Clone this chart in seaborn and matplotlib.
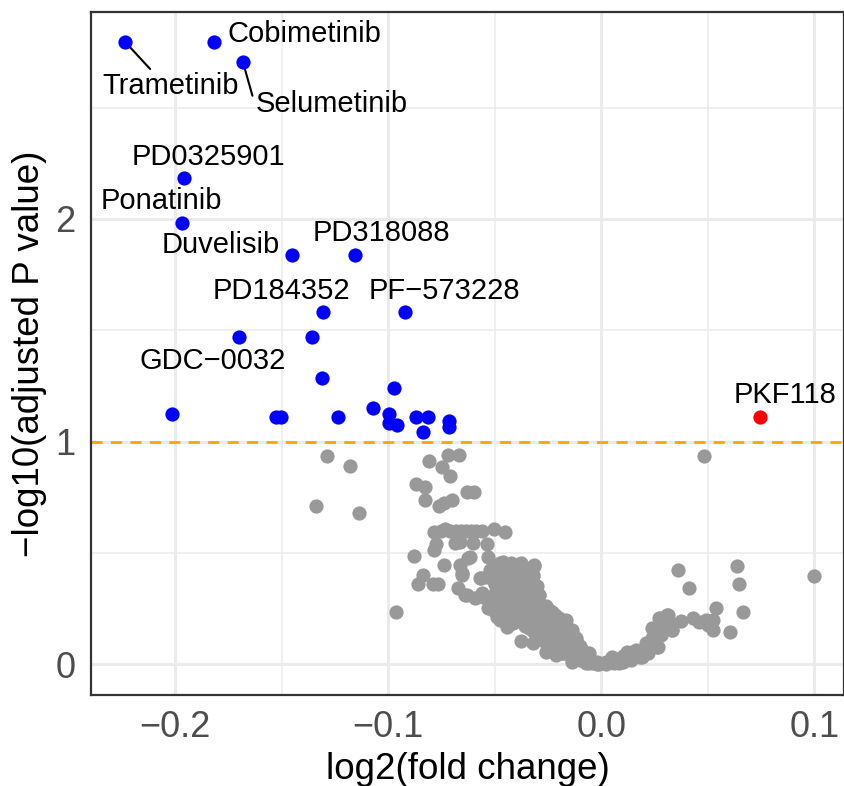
import matplotlib

matplotlib.use("Agg")
import matplotlib.pyplot as plt
import pandas as pd
import seaborn as sns

# significant hits (adjusted P < 0.1, negative fold change)
hit_names = ["Trametinib", "Cobimetinib", "Selumetinib", "PD0325901", "Ponatinib",
             "Duvelisib", "PD318088", "PD184352", "PF\u2212573228", "GDC\u22120032",
             "", "", "", "", "", "", "", "", "", "", "", "", "", "", "", ""]
hit_fc = [-0.2236, -0.1819, -0.1683, -0.1960, -0.1969,
          -0.1453, -0.1158, -0.1308, -0.0924, -0.1702,
          -0.1360, -0.1310, -0.0975, -0.2016, -0.1528, -0.1505, -0.1238, -0.1074,
          -0.0999, -0.0995, -0.0961, -0.0872, -0.0816, -0.0839, -0.0713, -0.0713]
hit_p = [2.796, 2.796, 2.706, 2.184, 1.982,
         1.838, 1.838, 1.582, 1.582, 1.470,
         1.470, 1.285, 1.240, 1.124, 1.110, 1.110, 1.110, 1.151,
         1.124, 1.083, 1.074, 1.110, 1.110, 1.043, 1.092, 1.065]

# significant positive hit
up_names = ["PKF118"]
up_fc = [0.0747]
up_p = [1.109]

# non significant compounds
ns_fc = [
    -0.129, -0.118, -0.134, -0.114, -0.081, -0.072, -0.067, -0.075, -0.071, -0.087,
    -0.083, -0.083, -0.063, -0.060, -0.076, -0.074, -0.070,
    -0.0788, -0.0733, -0.0681, -0.0634, -0.0587, -0.0506, -0.0453, -0.0755, -0.0710,
    -0.0660, -0.0610, -0.0560,
    -0.0689, -0.0666, -0.0603, -0.0538, -0.0778, -0.0788, -0.0881, -0.0741, -0.0839,
    -0.0863, -0.0792, -0.0769, -0.0966, -0.0619, -0.0666, -0.0652, -0.0675, -0.0642,
    -0.0595, -0.0558,
    -0.0628, -0.0652, -0.0633, -0.0563, -0.0534, -0.0525, -0.0469, -0.0422, -0.0375,
    -0.0314, -0.0323, -0.0384, -0.0445, -0.0492, -0.0445, -0.0398, -0.0361, -0.0300,
    -0.0511, -0.0464, -0.0534, -0.0488, -0.0431, -0.0384, -0.0338, -0.0291, -0.0244,
    -0.0197, -0.0164, -0.0417, -0.0352, -0.0291, -0.0230,
    -0.0417, -0.0375, -0.0314, -0.0323, -0.0295, -0.0375, -0.0323, -0.0234, -0.0173,
    -0.0150, -0.0117, -0.0089, -0.0258, -0.0230, -0.0183, -0.0136, -0.0070, -0.0009,
    -0.0511, -0.0478, -0.0445, -0.0539, -0.0572, -0.0492, -0.0478, -0.0431, -0.0398,
    -0.0352, -0.0291,
    -0.0291, -0.0244, -0.0183, -0.0136, -0.0117, -0.0258, -0.0197, -0.0258, -0.0211,
    -0.0150, -0.0103, -0.0070, -0.0136, -0.0056, 0.0023, 0.0070, 0.0117, 0.0164,
    0.0211, 0.0239, 0.0192, 0.0263, 0.0272, 0.0309, 0.0333, 0.0263, 0.0122, 0.0084,
    0.0052,
    -0.004, -0.008, -0.012, -0.016, -0.020, -0.024, -0.028, -0.032, -0.036, -0.040,
    -0.044, -0.048, -0.052, -0.056, -0.034, -0.038, -0.042, -0.046, -0.050, -0.027,
    0.004, 0.010, 0.014, 0.018, 0.022, 0.025, 0.028, 0.030, 0.032, 0.0145, 0.0239,
    0.0480, 0.0361, 0.0413, 0.0636, 0.0644, 0.0667, 0.0606, 0.0999, 0.0331, 0.0264,
    0.0280, 0.0311, 0.0374, 0.0428, 0.0491, 0.0522, 0.0538, 0.0525, 0.0460, 0.0500,
    # dense band
    -0.050, -0.050, -0.050, -0.050,
    -0.046, -0.046, -0.046, -0.046, -0.046,
    -0.042, -0.042, -0.042, -0.042, -0.042,
    -0.038, -0.038, -0.038, -0.038, -0.038, -0.038,
    -0.034, -0.034, -0.034, -0.034, -0.034, -0.034, -0.034,
    -0.030, -0.030, -0.030, -0.030, -0.030, -0.030,
    -0.026, -0.026, -0.026, -0.026, -0.026,
    -0.022, -0.022, -0.022, -0.022, -0.022,
    -0.018, -0.018, -0.018, -0.018,
    -0.014, -0.014, -0.014, -0.014,
    -0.010, -0.010, -0.010,
    -0.006, -0.006, -0.006,
    -0.002, -0.002, 0.002, 0.002, 0.006, 0.006, 0.010, 0.010,
    0.014, 0.014, 0.018, 0.018, 0.022, 0.022,
]
ns_p = [
    0.936, 0.891, 0.711, 0.679, 0.912, 0.938, 0.938, 0.885, 0.845, 0.809,
    0.796, 0.739, 0.771, 0.775, 0.709, 0.724, 0.736,
    0.595, 0.605, 0.598, 0.598, 0.598, 0.605, 0.595, 0.598, 0.598,
    0.600, 0.600, 0.598,
    0.542, 0.550, 0.542, 0.539, 0.539, 0.512, 0.484, 0.445, 0.400,
    0.360, 0.360, 0.360, 0.234, 0.481, 0.445, 0.400, 0.342, 0.310,
    0.297, 0.301,
    0.476, 0.409, 0.310, 0.387, 0.481, 0.422, 0.445, 0.454, 0.454,
    0.445, 0.400, 0.400, 0.387, 0.346, 0.333, 0.319, 0.310, 0.310,
    0.288, 0.274, 0.252, 0.211, 0.229, 0.243, 0.220, 0.229, 0.243,
    0.207, 0.198, 0.184, 0.184, 0.184, 0.184,
    0.436, 0.445, 0.440, 0.396, 0.310, 0.103, 0.094, 0.234, 0.189,
    0.153, 0.108, 0.063, 0.094, 0.063, 0.049, 0.018, 0.004, 0.000,
    0.243, 0.198, 0.166, 0.391, 0.387, 0.422, 0.454, 0.364, 0.301,
    0.274, 0.211,
    0.310, 0.234, 0.189, 0.153, 0.117, 0.121, 0.094, 0.054, 0.040,
    0.063, 0.049, 0.031, 0.009, 0.004, 0.004, 0.018, 0.031, 0.063,
    0.094, 0.117, 0.031, 0.153, 0.207, 0.220, 0.153, 0.076, 0.054, 0.004,
    0.031,
    0.005, 0.015, 0.030, 0.050, 0.070, 0.090, 0.120, 0.150, 0.170, 0.200,
    0.230, 0.260, 0.290, 0.320, 0.250, 0.280, 0.300, 0.330, 0.360, 0.160,
    0.010, 0.020, 0.030, 0.050, 0.070, 0.100, 0.130, 0.160, 0.185, 0.054, 0.162,
    0.936, 0.421, 0.340, 0.442, 0.360, 0.232, 0.142, 0.397, 0.151, 0.075,
    0.205, 0.220, 0.195, 0.205, 0.198, 0.198, 0.250, 0.153, 0.190, 0.175,
    # dense band
    0.32, 0.36, 0.40, 0.44,
    0.30, 0.34, 0.38, 0.42, 0.46,
    0.26, 0.30, 0.34, 0.38, 0.42,
    0.22, 0.26, 0.30, 0.34, 0.38, 0.42,
    0.16, 0.20, 0.24, 0.28, 0.32, 0.36, 0.42,
    0.14, 0.18, 0.22, 0.26, 0.30, 0.35,
    0.10, 0.14, 0.18, 0.22, 0.26,
    0.08, 0.12, 0.16, 0.20, 0.22,
    0.05, 0.09, 0.13, 0.17,
    0.03, 0.06, 0.10, 0.13,
    0.02, 0.04, 0.08,
    0.01, 0.03, 0.05,
    0.00, 0.01, 0.00, 0.01, 0.005, 0.02, 0.01, 0.035,
    0.02, 0.045, 0.03, 0.06, 0.05, 0.08,
]

THRESHOLD = 1.0

# label offsets in points relative to the point, and optional leader segment start
label_offsets = {
    "Trametinib": (33, -32, (0.37, 1.0)),
    "Cobimetinib": (65, 6, None),
    "Selumetinib": (64, -30, (-0.02, 0.75)),
    "PD0325901": (18, 15, None),
    "Ponatinib": (-15, 16, None),
    "Duvelisib": (-51, 7, None),
    "PD318088": (19, 16, None),
    "PD184352": (-30, 15, None),
    "PF\u2212573228": (29, 15, None),
    "GDC\u22120032": (-19, -17, None),
    "PKF118": (18, 16, None),
}

df = pd.concat([
    pd.DataFrame({"fc": hit_fc, "p": hit_p, "name": hit_names, "group": "down"}),
    pd.DataFrame({"fc": up_fc, "p": up_p, "name": up_names, "group": "up"}),
    pd.DataFrame({"fc": ns_fc, "p": ns_p, "name": "", "group": "ns"}),
], ignore_index=True)

sns.set_theme(style="white")
plt.rcParams["font.family"] = ["Liberation Sans", "DejaVu Sans"]

fig = plt.figure(figsize=(8.45, 7.86), dpi=100)
ax = fig.add_axes([0.1077, 0.1158, 0.8911, 0.8689])

ax.axhline(THRESHOLD, color="orange", lw=2, ls=(0, (4, 3)), zorder=2)

order = ["ns", "down", "up"]
palette = {"ns": "#999999", "down": "#0000FF", "up": "#FF0000"}
for g in order:
    sns.scatterplot(data=df[df["group"] == g], x="fc", y="p", color=palette[g],
                    s=105, linewidth=0, ax=ax, zorder=4, legend=False)

for _, row in df[df["name"] != ""].iterrows():
    dx, dy, rel = label_offsets[row["name"]]
    arrow = None
    if rel is not None:
        arrow = dict(arrowstyle="-", color="black", lw=1.5, shrinkA=0, shrinkB=0,
                     relpos=rel)
    ax.annotate(row["name"], (row["fc"], row["p"]), xytext=(dx, dy),
                textcoords="offset points", ha="center", va="center",
                fontsize=21, color="black", arrowprops=arrow, zorder=3)

ax.set_xlim(-0.2396, 0.1139)
ax.set_ylim(-0.139, 2.930)
ax.set_xticks([-0.2, -0.1, 0.0, 0.1])
ax.set_xticklabels(["\u22120.2", "\u22120.1", "0.0", "0.1"])
ax.set_yticks([0, 1, 2])
ax.set_xticks([-0.15, -0.05, 0.05], minor=True)
ax.set_yticks([0.5, 1.5, 2.5], minor=True)

ax.grid(which="major", color="#EBEBEB", lw=2.2, zorder=0)
ax.grid(which="minor", color="#EBEBEB", lw=1.1, zorder=0)
ax.set_axisbelow(True)
for sp in ax.spines.values():
    sp.set_color("#333333")
    sp.set_linewidth(1.6)

ax.tick_params(axis="both", which="major", length=7, width=1.5, color="#333333",
               labelsize=26, labelcolor="#4D4D4D", pad=4)
ax.tick_params(axis="both", which="minor", length=0)

ax.set_xlabel("log2(fold change)", fontsize=26.5, color="black", labelpad=5)
ax.set_ylabel("\u2212log10(adjusted P value)", fontsize=26.5, color="black", labelpad=6)

fig.savefig("out.png", dpi=100)
plt.close(fig)
